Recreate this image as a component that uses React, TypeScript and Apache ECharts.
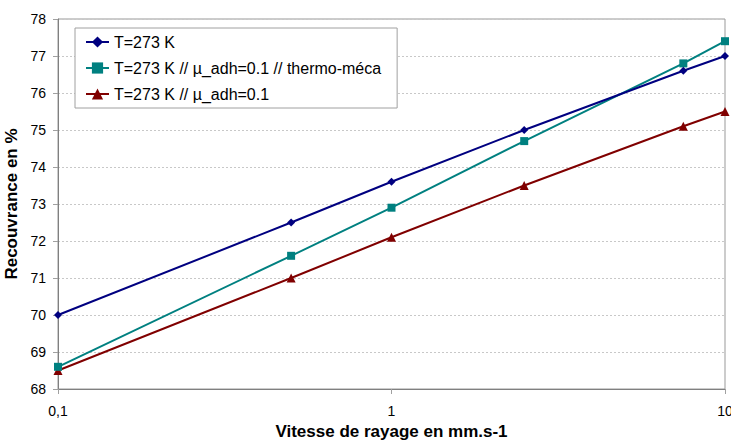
import React, { useEffect, useRef } from "react";
import * as echarts from "echarts";

const speeds = [0.1, 0.5, 1, 2.5, 7.5, 10];
const seriesNames = [
  "T=273 K",
  "T=273 K // µ_adh=0.1 // thermo-méca",
  "T=273 K // µ_adh=0.1",
];
const blueValues = [70.0, 72.5, 73.6, 75.0, 76.6, 77.0];
const tealValues = [68.6, 71.6, 72.9, 74.7, 76.8, 77.4];
const redValues = [68.5, 71.0, 72.1, 73.5, 75.1, 75.5];
const colors = ["#000080", "#008080", "#800000"];
const symbols = ["diamond", "rect", "triangle"];
const symbolSizes = [8, 8, 9];

export default function App() {
  const ref = useRef<HTMLDivElement>(null);
  useEffect(() => {
    if (!ref.current) return;
    const chart = echarts.init(ref.current, null, { renderer: "svg" });
    const all = [blueValues, tealValues, redValues];
    chart.setOption({
      animation: false,
      backgroundColor: "#ffffff",
      textStyle: { fontFamily: "Liberation Sans, Arial, sans-serif" },
      grid: {
        left: 58,
        right: 6,
        top: 19,
        bottom: 52,
        show: true,
        borderColor: "#999999",
        borderWidth: 1,
        containLabel: false,
        outerBoundsMode: "none",
      },
      legend: {
        orient: "vertical",
        left: 75,
        top: 28,
        data: seriesNames,
        backgroundColor: "#ffffff",
        borderColor: "#a0a0a0",
        borderWidth: 1,
        borderRadius: 0,
        padding: [6, 16, 6, 10],
        itemGap: 10,
        itemWidth: 23,
        itemHeight: 14,
        textStyle: {
          fontSize: 16,
          color: "#000000",
          fontFamily: "Liberation Sans, Arial, sans-serif",
        },
      },
      xAxis: {
        type: "log",
        logBase: 10,
        min: 0.1,
        max: 10,
        name: "Vitesse de rayage en mm.s-1",
        nameLocation: "middle",
        nameGap: 31,
        nameTextStyle: {
          fontSize: 17,
          fontWeight: "bold",
          color: "#000000",
        },
        axisLine: { show: true, lineStyle: { color: "#808080", width: 1 } },
        axisTick: { show: true, inside: false, length: 5, lineStyle: { color: "#a0a0a0" } },
        minorTick: { show: false },
        splitLine: { show: false },
        axisLabel: {
          fontSize: 14,
          color: "#000000",
          margin: 15,
          formatter: (v: number) => String(Number(v.toPrecision(6))).replace(".", ","),
        },
      },
      yAxis: {
        type: "value",
        min: 68,
        max: 78,
        interval: 1,
        name: "Recouvrance en %",
        nameLocation: "middle",
        nameGap: 31,
        nameTextStyle: {
          fontSize: 17,
          fontWeight: "bold",
          color: "#000000",
        },
        axisLine: { show: true, lineStyle: { color: "#808080", width: 1 } },
        axisTick: { show: true, inside: false, length: 5, lineStyle: { color: "#a0a0a0" } },
        splitLine: {
          show: true,
          lineStyle: { color: "#c8c8c8", type: [2, 2], width: 1 },
        },
        axisLabel: { fontSize: 14, color: "#000000", margin: 12 },
      },
      series: seriesNames.map((name, i) => ({
        name,
        type: "line",
        data: speeds.map((s, j) => [s, all[i][j]]),
        symbol: symbols[i],
        symbolSize: symbolSizes[i],
        showAllSymbol: true,
        lineStyle: { color: colors[i], width: 2 },
        itemStyle: { color: colors[i] },
        z: 3 - i + 2,
      })),
    });
    return () => chart.dispose();
  }, []);
  return (
    <div
      ref={ref}
      style={{ position: "fixed", left: 0, top: 0, width: 731, height: 441 }}
    />
  );
}
